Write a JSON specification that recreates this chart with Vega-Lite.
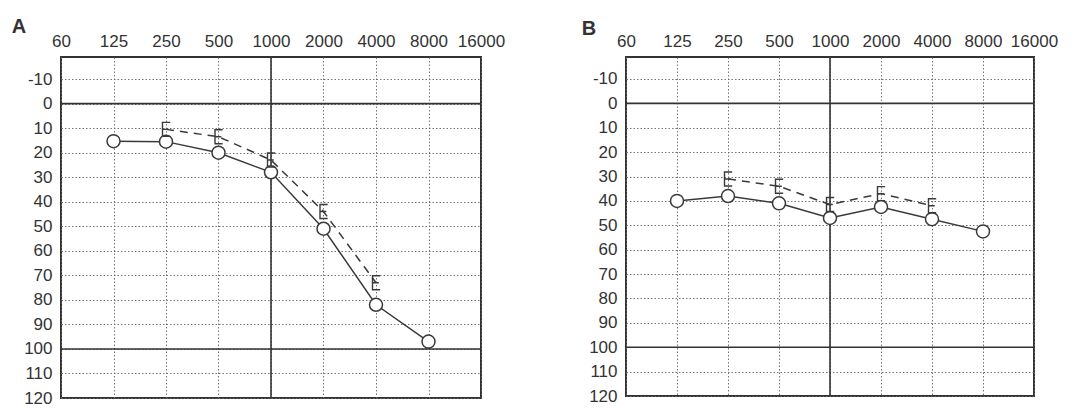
{
  "$schema": "https://vega.github.io/schema/vega-lite/v6.json",
  "background": "white",
  "padding": {"left": 10, "top": 16, "right": 5, "bottom": 5},
  "spacing": 74,
  "datasets": {
    "audiogram": [
      {"panel": "A", "type": "AC", "freq": 125, "db": 15.3},
      {"panel": "A", "type": "AC", "freq": 250, "db": 15.5},
      {"panel": "A", "type": "AC", "freq": 500, "db": 20},
      {"panel": "A", "type": "AC", "freq": 1000, "db": 28},
      {"panel": "A", "type": "AC", "freq": 2000, "db": 51},
      {"panel": "A", "type": "AC", "freq": 4000, "db": 82},
      {"panel": "A", "type": "AC", "freq": 8000, "db": 97},
      {"panel": "A", "type": "BC", "freq": 250, "db": 10.5},
      {"panel": "A", "type": "BC", "freq": 500, "db": 13.5},
      {"panel": "A", "type": "BC", "freq": 1000, "db": 23},
      {"panel": "A", "type": "BC", "freq": 2000, "db": 44},
      {"panel": "A", "type": "BC", "freq": 4000, "db": 73},
      {"panel": "B", "type": "AC", "freq": 125, "db": 40},
      {"panel": "B", "type": "AC", "freq": 250, "db": 38},
      {"panel": "B", "type": "AC", "freq": 500, "db": 41},
      {"panel": "B", "type": "AC", "freq": 1000, "db": 47},
      {"panel": "B", "type": "AC", "freq": 2000, "db": 42.5},
      {"panel": "B", "type": "AC", "freq": 4000, "db": 47.5},
      {"panel": "B", "type": "AC", "freq": 8000, "db": 52.5},
      {"panel": "B", "type": "BC", "freq": 250, "db": 31},
      {"panel": "B", "type": "BC", "freq": 500, "db": 34},
      {"panel": "B", "type": "BC", "freq": 1000, "db": 41.5},
      {"panel": "B", "type": "BC", "freq": 2000, "db": 37},
      {"panel": "B", "type": "BC", "freq": 4000, "db": 42}
    ],
    "hlines": [{"db": 0}, {"db": 100}],
    "vlines": [{"freq": 1000}]
  },
  "hconcat": [
    {
      "width": 420,
      "height": 341,
      "title": {"text": "A", "anchor": "start", "frame": "bounds", "dx": -12, "dy": 9, "fontSize": 20, "fontWeight": "bold", "color": "#333", "font": "Liberation Sans"},
      "layer": [
        {
          "data": {"name": "hlines"},
          "mark": {"type": "rule", "color": "#333", "strokeWidth": 1.6},
          "encoding": {
            "y": {"field": "db", "type": "quantitative", "title": null,
              "scale": {"domain": [-19, 120], "reverse": true, "nice": false, "zero": false},
              "axis": {"values": [-10, 0, 10, 20, 30, 40, 50, 60, 70, 80, 90, 100, 110, 120], "tickCount": 30, "labelExpr": "datum.value < 0 ? '-' + (-datum.value) : '' + datum.value", "labelPadding": 9, "labelOverlap": false}}
          }
        },
        {
          "data": {"name": "vlines"},
          "mark": {"type": "rule", "color": "#333", "strokeWidth": 1.6},
          "encoding": {
            "x": {"field": "freq", "type": "quantitative", "title": null,
              "scale": {"type": "log", "base": 2, "domain": [62.5, 16000], "nice": false},
              "axis": {"orient": "top", "values": [62.5, 125, 250, 500, 1000, 2000, 4000, 8000, 16000], "tickCount": 30, "labelExpr": "datum.value < 100 ? '60' : '' + datum.value", "labelFlush": false, "labelOverlap": false, "labelPadding": 7}}
          }
        },
        {
          "data": {"name": "audiogram"},
          "transform": [{"filter": "datum.panel === 'A' && datum.type === 'AC'"}],
          "mark": {"type": "line", "color": "#3a3a3a", "strokeWidth": 1.5},
          "encoding": {
            "x": {"field": "freq", "type": "quantitative", "title": null, "scale": {"type": "log", "base": 2, "domain": [62.5, 16000], "nice": false}},
            "y": {"field": "db", "type": "quantitative", "title": null, "scale": {"domain": [-19, 120], "reverse": true, "nice": false, "zero": false}}
          }
        },
        {
          "data": {"name": "audiogram"},
          "transform": [{"filter": "datum.panel === 'A' && datum.type === 'BC'"}],
          "mark": {"type": "line", "color": "#3a3a3a", "strokeWidth": 1.5, "strokeDash": [8, 6]},
          "encoding": {
            "x": {"field": "freq", "type": "quantitative", "title": null, "scale": {"type": "log", "base": 2, "domain": [62.5, 16000], "nice": false}},
            "y": {"field": "db", "type": "quantitative", "title": null, "scale": {"domain": [-19, 120], "reverse": true, "nice": false, "zero": false}}
          }
        },
        {
          "data": {"name": "audiogram"},
          "transform": [{"filter": "datum.panel === 'A' && datum.type === 'AC'"}],
          "mark": {"type": "point", "shape": "circle", "filled": true, "fill": "white", "stroke": "#3a3a3a", "strokeWidth": 1.5, "size": 169, "opacity": 1},
          "encoding": {
            "x": {"field": "freq", "type": "quantitative", "title": null, "scale": {"type": "log", "base": 2, "domain": [62.5, 16000], "nice": false}},
            "y": {"field": "db", "type": "quantitative", "title": null, "scale": {"domain": [-19, 120], "reverse": true, "nice": false, "zero": false}}
          }
        },
        {
          "data": {"name": "audiogram"},
          "transform": [{"filter": "datum.panel === 'A' && datum.type === 'BC'"}],
          "mark": {"type": "point", "shape": "M0.6,-1H-0.5V1H0.6M-0.5,0H0.4", "filled": false, "stroke": "#3a3a3a", "strokeWidth": 1.4, "size": 196, "opacity": 1},
          "encoding": {
            "x": {"field": "freq", "type": "quantitative", "title": null, "scale": {"type": "log", "base": 2, "domain": [62.5, 16000], "nice": false}},
            "y": {"field": "db", "type": "quantitative", "title": null, "scale": {"domain": [-19, 120], "reverse": true, "nice": false, "zero": false}}
          }
        }
      ]
    },
    {
      "width": 408,
      "height": 339,
      "title": {"text": "B", "anchor": "start", "frame": "bounds", "dx": -7, "dy": 11, "fontSize": 20, "fontWeight": "bold", "color": "#333", "font": "Liberation Sans"},
      "layer": [
        {
          "data": {"name": "hlines"},
          "mark": {"type": "rule", "color": "#333", "strokeWidth": 1.6},
          "encoding": {
            "y": {"field": "db", "type": "quantitative", "title": null,
              "scale": {"domain": [-19, 120], "reverse": true, "nice": false, "zero": false},
              "axis": {"values": [-10, 0, 10, 20, 30, 40, 50, 60, 70, 80, 90, 100, 110, 120], "tickCount": 30, "labelExpr": "datum.value < 0 ? '-' + (-datum.value) : '' + datum.value", "labelPadding": 9, "labelOverlap": false}}
          }
        },
        {
          "data": {"name": "vlines"},
          "mark": {"type": "rule", "color": "#333", "strokeWidth": 1.6},
          "encoding": {
            "x": {"field": "freq", "type": "quantitative", "title": null,
              "scale": {"type": "log", "base": 2, "domain": [62.5, 16000], "nice": false},
              "axis": {"orient": "top", "values": [62.5, 125, 250, 500, 1000, 2000, 4000, 8000, 16000], "tickCount": 30, "labelExpr": "datum.value < 100 ? '60' : '' + datum.value", "labelFlush": false, "labelOverlap": false, "labelPadding": 7}}
          }
        },
        {
          "data": {"name": "audiogram"},
          "transform": [{"filter": "datum.panel === 'B' && datum.type === 'AC'"}],
          "mark": {"type": "line", "color": "#3a3a3a", "strokeWidth": 1.5},
          "encoding": {
            "x": {"field": "freq", "type": "quantitative", "title": null, "scale": {"type": "log", "base": 2, "domain": [62.5, 16000], "nice": false}},
            "y": {"field": "db", "type": "quantitative", "title": null, "scale": {"domain": [-19, 120], "reverse": true, "nice": false, "zero": false}}
          }
        },
        {
          "data": {"name": "audiogram"},
          "transform": [{"filter": "datum.panel === 'B' && datum.type === 'BC'"}],
          "mark": {"type": "line", "color": "#3a3a3a", "strokeWidth": 1.5, "strokeDash": [8, 6]},
          "encoding": {
            "x": {"field": "freq", "type": "quantitative", "title": null, "scale": {"type": "log", "base": 2, "domain": [62.5, 16000], "nice": false}},
            "y": {"field": "db", "type": "quantitative", "title": null, "scale": {"domain": [-19, 120], "reverse": true, "nice": false, "zero": false}}
          }
        },
        {
          "data": {"name": "audiogram"},
          "transform": [{"filter": "datum.panel === 'B' && datum.type === 'AC'"}],
          "mark": {"type": "point", "shape": "circle", "filled": true, "fill": "white", "stroke": "#3a3a3a", "strokeWidth": 1.5, "size": 169, "opacity": 1},
          "encoding": {
            "x": {"field": "freq", "type": "quantitative", "title": null, "scale": {"type": "log", "base": 2, "domain": [62.5, 16000], "nice": false}},
            "y": {"field": "db", "type": "quantitative", "title": null, "scale": {"domain": [-19, 120], "reverse": true, "nice": false, "zero": false}}
          }
        },
        {
          "data": {"name": "audiogram"},
          "transform": [{"filter": "datum.panel === 'B' && datum.type === 'BC'"}],
          "mark": {"type": "point", "shape": "M0.6,-1H-0.5V1H0.6M-0.5,0H0.4", "filled": false, "stroke": "#3a3a3a", "strokeWidth": 1.4, "size": 196, "opacity": 1},
          "encoding": {
            "x": {"field": "freq", "type": "quantitative", "title": null, "scale": {"type": "log", "base": 2, "domain": [62.5, 16000], "nice": false}},
            "y": {"field": "db", "type": "quantitative", "title": null, "scale": {"domain": [-19, 120], "reverse": true, "nice": false, "zero": false}}
          }
        }
      ]
    }
  ],
  "config": {
    "view": {"stroke": "#333", "strokeWidth": 2},
    "axis": {
      "labelFont": "Liberation Sans", "labelFontSize": 17, "labelColor": "#333", "labelOverlap": false,
      "grid": true, "gridColor": "#666", "gridDash": [1.5, 2], "gridWidth": 1, "gridOpacity": 0.9,
      "ticks": false, "domain": false
    }
  }
}
